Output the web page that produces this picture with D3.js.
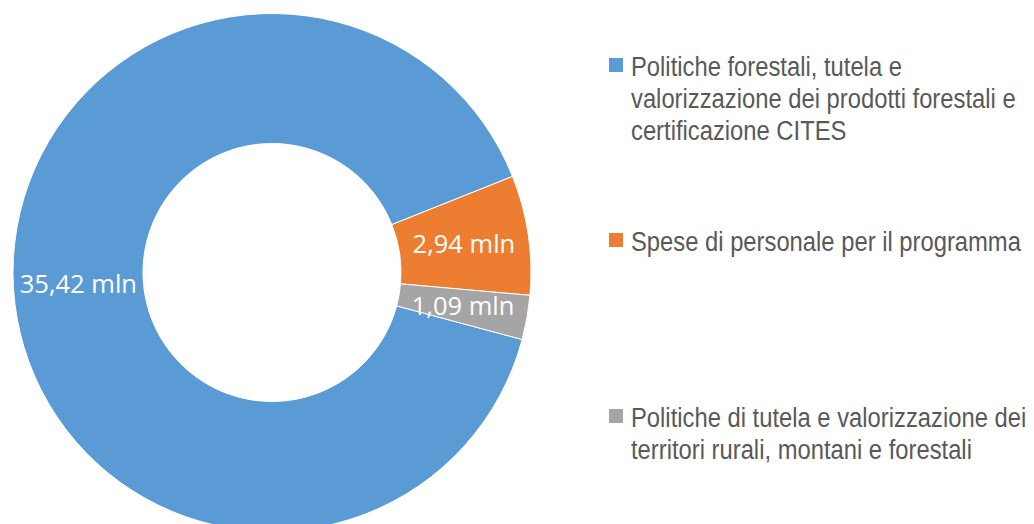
<!DOCTYPE html>
<html>
<head>
<meta charset="utf-8">
<script src="https://cdn.jsdelivr.net/npm/d3@7"></script>
<style>
  body { margin: 0; background: #fff; }
  svg { display: block; }
</style>
</head>
<body>
<svg id="chart"></svg>
<script>
// data
var categories = [
    "Politiche forestali, tutela e valorizzazione dei prodotti forestali e certificazione CITES",
    "Spese di personale per il programma",
    "Politiche di tutela e valorizzazione dei territori rurali, montani e forestali"
];
var values = [35.42, 2.94, 1.09];
var valueLabels = ["35,42 mln", "2,94 mln", "1,09 mln"];
// legend text as it wraps in the picture
var legendLines = [
    ["Politiche forestali, tutela e", "valorizzazione dei prodotti forestali e", "certificazione CITES"],
    ["Spese di personale per il programma"],
    ["Politiche di tutela e valorizzazione dei", "territori rurali, montani e forestali"]
];
var colors = ["#5B9BD5", "#ED7D31", "#A5A5A5"];

var screen = {width: 1034, height: 524};

var svg = d3.select("#chart")
    .attr("width", screen.width)
    .attr("height", screen.height);

// donut
var cx = 272, cy = 272.5;
var outerR = 259, innerR = 129;

var pie = d3.pie()
    .sort(null)
    .startAngle(105 * Math.PI / 180)
    .endAngle((105 + 360) * Math.PI / 180);

var arc = d3.arc()
    .innerRadius(innerR)
    .outerRadius(outerR);

var g = svg.append("g")
    .attr("transform", "translate(" + cx + "," + cy + ")");

var slices = g.selectAll("g.slice")
    .data(pie(values))
    .enter()
    .append("g")
    .attr("class", "slice");

slices.append("path")
    .attr("d", arc)
    .attr("fill", function(d, i){ return colors[i]; })
    .attr("stroke", "#fff")
    .attr("stroke-width", 1);

slices.append("text")
    .attr("transform", function(d){ return "translate(" + arc.centroid(d) + ")"; })
    .attr("text-anchor", "middle")
    .attr("dy", "0.36em")
    .attr("fill", "#fff")
    .style("font-family", "'Open Sans', 'Noto Sans', sans-serif")
    .style("font-size", "25.5px")
    .text(function(d, i){ return valueLabels[i]; });

// legend
var legendX = 609;
var lineH = 32;
var firstBaselines = [76, 251, 427];
var fontFamily = "'Liberation Sans Narrow', 'Arial Narrow', 'Liberation Sans', Arial, sans-serif";

var legend = svg.append("g").attr("class", "legend");

var items = legend.selectAll("g.item")
    .data(categories)
    .enter()
    .append("g")
    .attr("class", "item")
    .attr("transform", function(d, i){ return "translate(" + legendX + "," + firstBaselines[i] + ")"; });

items.append("rect")
    .attr("x", 0)
    .attr("y", -18)
    .attr("width", 14)
    .attr("height", 14)
    .attr("fill", function(d, i){ return colors[i]; });

var texts = items.append("text")
    .attr("x", 22)
    .attr("y", 0)
    .attr("fill", "#595959")
    .style("font-family", fontFamily)
    .style("font-size", "27px");

texts.each(function(d, i){
    var t = d3.select(this);
    legendLines[i].forEach(function(line, k){
        t.append("tspan")
            .attr("x", 22)
            .attr("y", k * lineH)
            .text(line);
    });
});

// if no narrow face is installed, squeeze the legend text to the narrow width
var probe = texts.filter(function(d, i){ return i === 1; }).node();
var w = probe.getComputedTextLength();
var target = 390;
if (Math.abs(w - target) > 8) {
    var sx = target / w;
    texts.attr("transform", "translate(22,0) scale(" + sx + ",1) translate(-22,0)");
}
</script>
</body>
</html>
